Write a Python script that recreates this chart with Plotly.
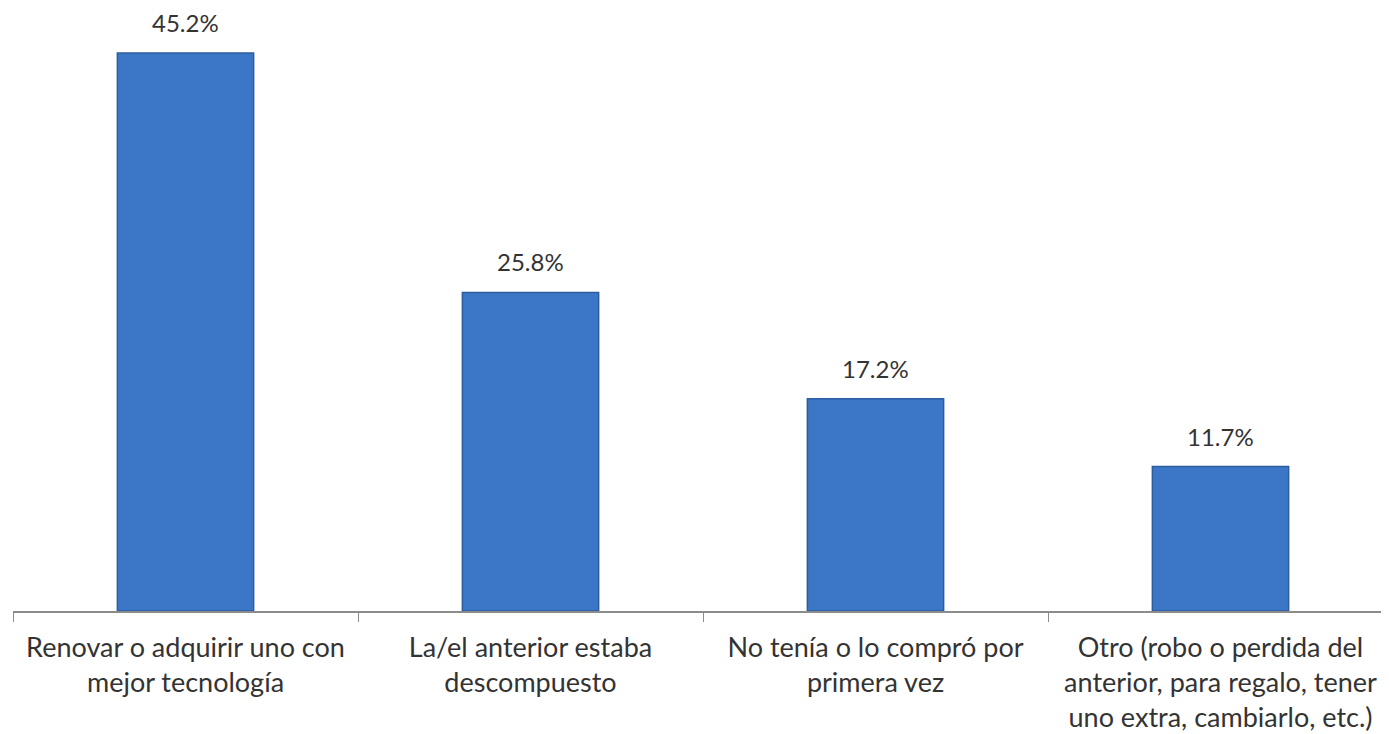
import plotly.graph_objects as go

categories = [
    "Renovar o adquirir uno con<br>mejor tecnología",
    "La/el anterior estaba<br>descompuesto",
    "No tenía o lo compró por<br>primera vez",
    "Otro (robo o perdida del<br>anterior, para regalo, tener<br>uno extra, cambiarlo, etc.)",
]
values = [45.2, 25.8, 17.2, 11.7]
labels = ["45.2%", "25.8%", "17.2%", "11.7%"]

FONT = "Lato"

fig = go.Figure()
fig.add_trace(go.Bar(
    x=categories, y=values,
    marker=dict(color="#3B77C6", line=dict(color="#2C5E9F", width=1.5)),
    width=0.395,
))
for c, v, t in zip(categories, values, labels):
    fig.add_annotation(
        x=c, y=v, text=t, showarrow=False, yanchor="bottom", yshift=14,
        font=dict(family=FONT, size=24, color="#333333"),
    )
fig.update_layout(
    width=1389, height=734,
    margin=dict(l=5, r=4, t=40, b=131),
    plot_bgcolor="white", paper_bgcolor="white",
    showlegend=False,
)
fig.update_xaxes(
    automargin=False,
    showline=True, linecolor="#8C8C8C", linewidth=1.5,
    ticks="outside", tickson="boundaries", ticklen=9, tickcolor="#8C8C8C",
    tickfont=dict(family=FONT, size=27, color="#333333"),
    ticklabelstandoff=12,
    showgrid=False,
)
fig.update_yaxes(visible=False, range=[0, 45.6], showgrid=False, automargin=False)
fig.write_html("out.html")
